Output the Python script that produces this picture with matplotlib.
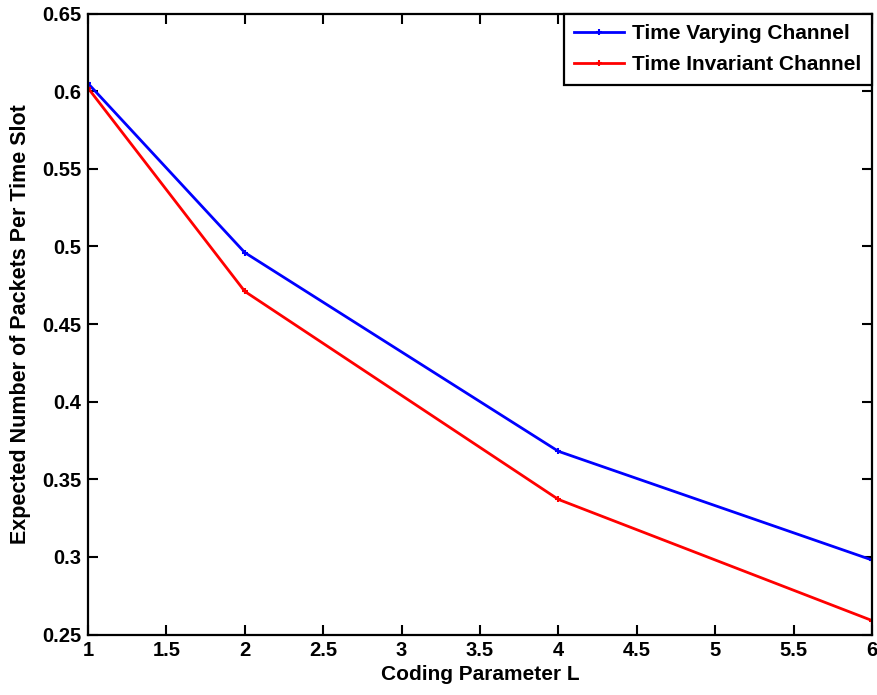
import matplotlib.pyplot as plt
import numpy as np

# data
L = [1, 2, 4, 6]
varying = [0.605, 0.496, 0.368, 0.298]
invariant = [0.602, 0.471, 0.337, 0.259]

xticks = [1, 1.5, 2, 2.5, 3, 3.5, 4, 4.5, 5, 5.5, 6]
yticks = [0.25, 0.3, 0.35, 0.4, 0.45, 0.5, 0.55, 0.6, 0.65]

plt.rcParams['font.family'] = ['Liberation Sans', 'DejaVu Sans']
plt.rcParams['font.weight'] = 'bold'

fig = plt.figure(figsize=(8.77, 6.95), dpi=100)
ax = fig.add_axes([88 / 877, 1 - 634.5 / 695, (872 - 88) / 877, (634.5 - 13.5) / 695])

ax.plot(L, varying, color='blue', lw=2.0, marker='+', ms=4, mew=1.5,
        label='Time Varying Channel')
ax.plot(L, invariant, color='red', lw=2.0, marker='+', ms=4, mew=1.5,
        label='Time Invariant Channel')

ax.set_xlim(1, 6)
ax.set_ylim(0.25, 0.65)
ax.set_xticks(xticks)
ax.set_xticklabels([f'{t:g}' for t in xticks])
ax.set_yticks(yticks)
ax.set_yticklabels([f'{t:g}' for t in yticks])

ax.tick_params(direction='in', length=7, width=1.5, top=True, right=True,
               labelsize=14.5, pad=5)
for s in ax.spines.values():
    s.set_linewidth(1.6)

ax.set_xlabel('Coding Parameter L', fontsize=15, fontweight='bold', labelpad=3)
ax.set_ylabel('Expected Number of Packets Per Time Slot', fontsize=15.5,
              fontweight='bold', labelpad=8)

leg = ax.legend(loc='upper right', bbox_to_anchor=(1, 1), borderaxespad=0,
                fancybox=False, edgecolor='black', fontsize=15,
                handlelength=2.4, handletextpad=0.4, borderpad=0.5,
                labelspacing=0.6)
leg.get_frame().set_linewidth(1.6)
leg.get_frame().set_alpha(1)

fig.savefig('out.png', dpi=100)
